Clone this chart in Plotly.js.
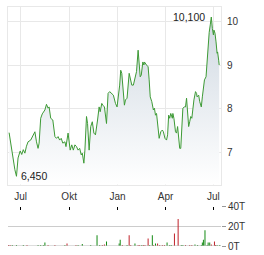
<!DOCTYPE html>
<html>
<head>
<meta charset="utf-8">
<script src="https://cdn.plot.ly/plotly-3.0.1.min.js"></script>
<style>html,body{margin:0;padding:0;background:#fff;}#chart{width:264px;height:255px;}</style>
</head>
<body>
<div id="chart"></div>
<script>
const priceDates = ['2023-06-09','2023-06-14','2023-06-17','2023-06-20','2023-06-23','2023-06-26','2023-06-30',
'2023-07-03','2023-07-06','2023-07-09','2023-07-12','2023-07-15','2023-07-20','2023-07-25','2023-07-28','2023-07-31',
'2023-08-03','2023-08-05','2023-08-08','2023-08-11','2023-08-16','2023-08-19','2023-08-22','2023-08-24','2023-08-27','2023-08-31',
'2023-09-04','2023-09-07','2023-09-10','2023-09-13','2023-09-16','2023-09-19','2023-09-23','2023-09-25','2023-09-27','2023-09-29',
'2023-10-03','2023-10-06','2023-10-09','2023-10-12','2023-10-15','2023-10-18','2023-10-21','2023-10-24','2023-10-26','2023-10-29','2023-10-31',
'2023-11-03','2023-11-05','2023-11-08','2023-11-11','2023-11-14','2023-11-17','2023-11-20','2023-11-24','2023-11-27','2023-11-29',
'2023-12-02','2023-12-04','2023-12-07','2023-12-11','2023-12-14','2023-12-17','2023-12-20','2023-12-24','2023-12-28','2023-12-31',
'2024-01-05','2024-01-07','2024-01-09','2024-01-12','2024-01-14','2024-01-16','2024-01-19','2024-01-23','2024-01-26','2024-01-28','2024-01-31',
'2024-02-04','2024-02-06','2024-02-09','2024-02-11','2024-02-13','2024-02-15','2024-02-18','2024-02-20','2024-02-21','2024-02-25','2024-02-28',
'2024-03-01','2024-03-03','2024-03-06','2024-03-09','2024-03-11','2024-03-13','2024-03-15','2024-03-18','2024-03-20','2024-03-23','2024-03-26','2024-03-28','2024-03-31',
'2024-04-03','2024-04-05','2024-04-07','2024-04-09','2024-04-11','2024-04-14','2024-04-15','2024-04-17','2024-04-20','2024-04-22','2024-04-24','2024-04-26','2024-04-28','2024-04-30',
'2024-05-02','2024-05-04','2024-05-07','2024-05-09','2024-05-11','2024-05-12','2024-05-15','2024-05-17','2024-05-19','2024-05-21','2024-05-23','2024-05-25','2024-05-28','2024-05-30','2024-05-31',
'2024-06-03','2024-06-05','2024-06-08','2024-06-10','2024-06-12','2024-06-14','2024-06-17','2024-06-19','2024-06-21','2024-06-23','2024-06-25','2024-06-27','2024-06-29',
'2024-07-01','2024-07-02','2024-07-04','2024-07-06','2024-07-08','2024-07-09','2024-07-11','2024-07-12'];
const priceValues = [7.45,7.05,6.80,6.60,6.45,6.87,7.03,
6.95,7.06,6.98,7.14,7.24,7.28,7.40,7.47,7.24,
7.09,7.21,7.78,7.88,7.97,8.10,8.01,8.04,7.78,7.74,
7.36,7.32,7.36,7.28,7.32,7.21,7.24,7.13,7.36,7.44,
7.05,7.17,7.05,7.17,7.13,7.05,7.09,6.94,6.98,6.75,7.05,
7.82,7.66,7.05,7.59,7.70,7.44,7.40,7.74,8.04,7.93,
8.12,8.08,8.04,7.66,8.35,8.39,8.35,8.31,8.12,8.04,
8.54,8.88,8.81,8.47,8.08,8.20,8.24,8.81,8.66,8.54,8.54,
8.77,8.85,9.34,9.07,8.73,8.77,9.07,9.00,9.07,9.00,8.96,
8.66,8.27,8.16,7.97,8.01,7.85,7.89,7.59,7.32,7.47,7.51,7.47,7.32,
7.28,7.40,7.85,7.78,7.89,7.78,7.89,7.78,7.47,7.44,7.59,7.28,7.09,7.09,
7.59,8.01,8.04,8.04,8.24,8.04,7.59,7.70,7.82,7.78,8.04,8.20,8.39,8.35,8.27,
8.31,8.16,8.04,8.27,8.54,8.66,8.73,9.11,9.57,9.75,9.92,10.10,9.84,
9.69,9.80,9.73,9.53,9.27,9.30,9.11,9.00];

const volDates = ['2023-06-08','2023-06-11','2023-06-15','2023-06-23','2023-07-06','2023-07-13','2023-08-03','2023-08-08','2023-08-13','2023-08-16','2023-08-22','2023-09-04','2023-09-23','2023-09-27','2023-10-14','2023-10-18','2023-10-26','2023-11-11','2023-11-23','2023-11-28','2023-12-03','2023-12-07','2023-12-11',
'2024-01-04','2024-01-06','2024-01-10','2024-01-19','2024-01-23','2024-01-26','2024-02-03','2024-02-09','2024-02-12','2024-02-16','2024-02-19','2024-02-22','2024-02-28','2024-03-02','2024-03-07','2024-03-09','2024-03-13','2024-03-17','2024-03-21','2024-03-26','2024-03-30','2024-04-04','2024-04-09','2024-04-12','2024-04-18','2024-04-25','2024-05-01','2024-05-04','2024-05-09','2024-05-17','2024-05-21','2024-05-27','2024-06-01','2024-06-08','2024-06-10','2024-06-12','2024-06-15','2024-06-19','2024-06-21','2024-06-24','2024-06-27','2024-07-03','2024-07-05','2024-07-08','2024-07-13'];
const volValues = [1,1,1,1,1,1,1,1,1,3.5,1,1,1,2.5,1,1,2,1,11,1,1,1.5,4.5,
2.5,6.5,1,1,11,1,2.5,1,1,1,1,1,7.7,1,11,1,2.5,2.5,1,1,1,3.5,1,1,12.8,27.5,1,1,1,1,1,1.5,1,1,3.5,6.5,16,1,3.5,3.5,1.5,4.5,1,1,1];
const volUp = [0,0,1,1,1,0,1,1,1,1,0,0,1,0,0,1,1,1,1,1,0,0,1,
1,1,0,1,0,0,1,0,0,1,0,0,0,1,1,0,1,0,0,0,0,1,1,1,0,0,1,1,0,0,0,1,1,1,1,1,1,1,1,1,0,0,0,1,1];

const tickVals = ['2023-07-01','2023-10-01','2024-01-01','2024-04-01','2024-07-01'];
const tickText = ['Jul','Okt','Jan','Apr','Jul'];
const priceTicks = [7,8,9,10];
const volTicks = [0,20,40];
const volTickText = ['0T','20T','40T'];

const fmt = v => v.toFixed(3).replace('.', ',');
let iMax = 0, iMin = 0;
priceValues.forEach((v,i)=>{ if(v>priceValues[iMax]) iMax=i; if(v<priceValues[iMin]) iMin=i; });

const font = {family:'Liberation Sans, Arial, sans-serif', size:10, color:'#333'};
const xr = ['2023-06-06 22:00','2024-07-15 10:00'];
const yr = [6.26, 10.33];

const traces = [
  {x:priceDates, y:priceValues, type:'scatter', mode:'lines', xaxis:'x', yaxis:'y',
   line:{color:'#3d9a35', width:1}, fill:'tozeroy',
   fillgradient:{type:'vertical', start:yr[0], stop:priceValues[iMax],
     colorscale:[[0,'rgba(255,255,255,1)'],[1,'rgba(208,217,226,1)']]},
   hoverinfo:'skip'},
  {x:volDates, y:volValues, type:'bar', xaxis:'x2', yaxis:'y2',
   marker:{color:volUp.map(u=>u?'#138a13':'#c0222a')}, width:1.9*86400000, hoverinfo:'skip'}
];

const layout = {
  width:264, height:255, showlegend:false,
  margin:{l:8, r:42.7, t:7, b:8.7},
  paper_bgcolor:'#fff', plot_bgcolor:'#fff', font:font,
  xaxis:{type:'date', range:xr, domain:[0,1], anchor:'y', tickvals:tickVals, ticktext:tickText,
    showgrid:true, gridcolor:'#e8e8e8', gridwidth:1, ticks:'', showline:true, linecolor:'#e8e8e8', mirror:true,
    zeroline:false, tickfont:font, ticklabelstandoff:2},
  yaxis:{domain:[0.257,1], range:yr, side:'right', tickvals:priceTicks, ticktext:priceTicks.map(String),
    showgrid:true, gridcolor:'#e8e8e8', showline:true, linecolor:'#e8e8e8', mirror:true, zeroline:false,
    ticks:'', tickfont:font, ticklabelstandoff:3},
  xaxis2:{type:'date', range:xr, domain:[0,1], anchor:'y2', side:'top', tickvals:tickVals,
    showticklabels:false, showgrid:false, ticks:'inside', ticklen:3, tickcolor:'#000', tickwidth:1, zeroline:false, showline:false},
  yaxis2:{domain:[0,0.164], range:[0,40], side:'right', tickvals:volTicks, ticktext:volTickText,
    showgrid:true, gridcolor:'#cccccc', zeroline:false, showline:false, ticks:'outside', ticklen:4, tickcolor:'#999',
    tickfont:font},
  shapes:[{type:'line', xref:'paper', yref:'y2', x0:0, x1:1, y0:0, y1:0, line:{color:'#bbbbbb', width:1}}],
  annotations:[
    {x:priceDates[iMax], y:priceValues[iMax], xref:'x', yref:'y', text:fmt(priceValues[iMax]), showarrow:false,
     xanchor:'right', yanchor:'middle', xshift:-4, font:{family:font.family, size:10.5, color:'#222'}},
    {x:priceDates[iMin], y:priceValues[iMin], xref:'x', yref:'y', text:fmt(priceValues[iMin]), showarrow:false,
     xanchor:'left', yanchor:'middle', xshift:3, font:{family:font.family, size:10.5, color:'#222'}}
  ]
};
Plotly.newPlot('chart', traces, layout, {staticPlot:true, displayModeBar:false});
</script>
</body>
</html>
